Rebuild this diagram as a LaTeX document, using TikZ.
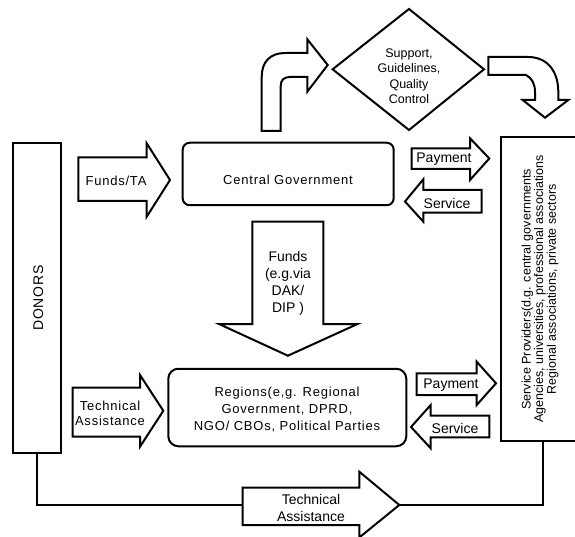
\documentclass[tikz,border=0pt]{standalone}
\usepackage{fontspec}
\setmainfont{Liberation Sans}
\newfontfamily\spacedfont[LetterSpace=6]{Liberation Sans}
\newfontfamily\widefont[LetterSpace=5]{Liberation Sans}
\begin{document}
\begin{tikzpicture}[x=1pt,y=-1pt, line width=2pt, line join=miter,
  shp/.style={draw=black, fill=white},
  boxnode/.style={draw=black, fill=white, inner sep=0pt},
  lbl/.style={inner sep=0pt, align=center, font=\fontsize{14}{17}\selectfont},
  slbl/.style={inner sep=0pt, align=center, font=\spacedfont\fontsize{13}{17}\selectfont}]
\useasboundingbox (0,0) rectangle (575,537);

% donors
\node[boxnode, minimum width=48pt, minimum height=310.6pt] (donors) at (36.85,298) {};
\node[rotate=90, inner sep=0pt, font=\widefont\fontsize{14}{16}\selectfont] (donorsText) at ([xshift=1.5pt]donors.center) {DONORS};

% service providers
\node[boxnode, minimum width=86pt, minimum height=303.5pt] (sp) at (544,289.2) {};
\node[rotate=90, inner sep=0pt, align=center, font=\fontsize{12.5}{11.5}\selectfont] (spText) at ([xshift=-4pt]sp.center) {Service Providers(d.g. central governments\\Agencies, universities, professional associations\\Regional associations, private sectors};

% connector donors -> service providers
\coordinate (taTail) at (242.7,505);
\coordinate (taTip) at (399.3,505);
\draw (donors.south) |- (taTail);
\draw (taTip) -| ([xshift=-0.7pt]sp.south);

% bottom technical assistance arrow
\draw[shp] (242.7,487.7) -- (359.3,487.7) -- (359.3,471.7) -- (399.3,505) -- (359.3,537.5) -- (359.3,525) -- (242.7,525) -- cycle;
\node[lbl] (taBotText) at (311,508) {Technical\\Assistance};

% Funds/TA arrow
\draw[shp] (78.3,157.3) -- (146.7,157.3) -- (146.7,143.3) -- (170,180) -- (146.7,216.7) -- (146.7,201) -- (78.3,201) -- cycle;
\node[slbl] (fundsTA) at (116,181) {Funds/TA};

% central government
\node[boxnode, rounded corners=7pt, minimum width=211pt, minimum height=62.5pt] (cg) at (288.2,174) {};
\node[slbl] (cgText) at (288,180) {Central Government};

% curved up arrow
\draw[shp] (261.7,131) -- (261.7,77) .. controls (261.7,62) and (270,53) .. (285,53) -- (307.3,53) -- (307.3,39.3) -- (327.7,65) -- (307.3,91.7) -- (307.3,77) -- (290,77) .. controls (284,77) and (280.7,80) .. (280.7,86) -- (280.7,131) -- cycle;

% diamond
\draw[shp] (332.6,69.3) -- (409,9) -- (484,69.3) -- (409,130) -- cycle;
\node[lbl, font=\fontsize{12.5}{15.5}\selectfont] (sgq) at (409,76) {Support,\\Guidelines,\\Quality\\Control};

% curved down arrow
\draw[shp] (488.3,57) -- (528,57) .. controls (548,57) and (558.3,72) .. (558.3,92) -- (558.3,100) -- (568.3,100) -- (545,117.7) -- (522.7,100) -- (535,100) -- (535,92) .. controls (535,84) and (532,78) .. (526,75) -- (488.3,75) -- cycle;

% payment / service (top)
\draw[shp] (411.7,148.3) -- (470,148.3) -- (470,138.3) -- (489.3,158.5) -- (470,180) -- (470,169) -- (411.7,169) -- cycle;
\node[lbl] (pay1) at (444,159) {Payment};
\draw[shp] (405,201.5) -- (423.3,179.3) -- (423.3,190) -- (481.7,190) -- (481.7,212.7) -- (423.3,212.7) -- (423.3,221.7) -- cycle;
\node[lbl] (serv1) at (447,203) {Service};

% funds down arrow
\draw[shp] (252.3,221.7) -- (323.4,221.7) -- (323.4,324) -- (357.5,324) -- (287.9,355.7) -- (219,324) -- (252.3,324) -- cycle;
\node[lbl] (funds) at (288,283.5) {Funds\\(e.g.via\\DAK/\\DIP )};

% regions
\node[boxnode, rounded corners=10pt, minimum width=238pt, minimum height=77.5pt] (reg) at (287.3,407.5) {};
\node[slbl] (regText) at (287,410) {Regions(e,g. Regional\\Government, DPRD,\\NGO/ CBOs, Political Parties};

% left technical assistance arrow
\draw[shp] (72.7,387.7) -- (140,387.7) -- (140,375) -- (163.3,410.8) -- (140,446.7) -- (140,436.7) -- (72.7,436.7) -- cycle;
\node[slbl, font=\spacedfont\fontsize{13}{14.5}\selectfont] (taLeft) at (110,413.5) {Technical\\Assistance};

% payment / service (bottom)
\draw[shp] (416.7,373.3) -- (476.7,373.3) -- (476.7,361.7) -- (496,383.3) -- (476.7,405) -- (476.7,395) -- (416.7,395) -- cycle;
\node[lbl] (pay2) at (451,385) {Payment};
\draw[shp] (411,427) -- (430.7,405) -- (430.7,415.7) -- (489.3,415.7) -- (489.3,437.3) -- (430.7,437.3) -- (430.7,448.3) -- cycle;
\node[lbl] (serv2) at (455,428) {Service};
\end{tikzpicture}
\end{document}
